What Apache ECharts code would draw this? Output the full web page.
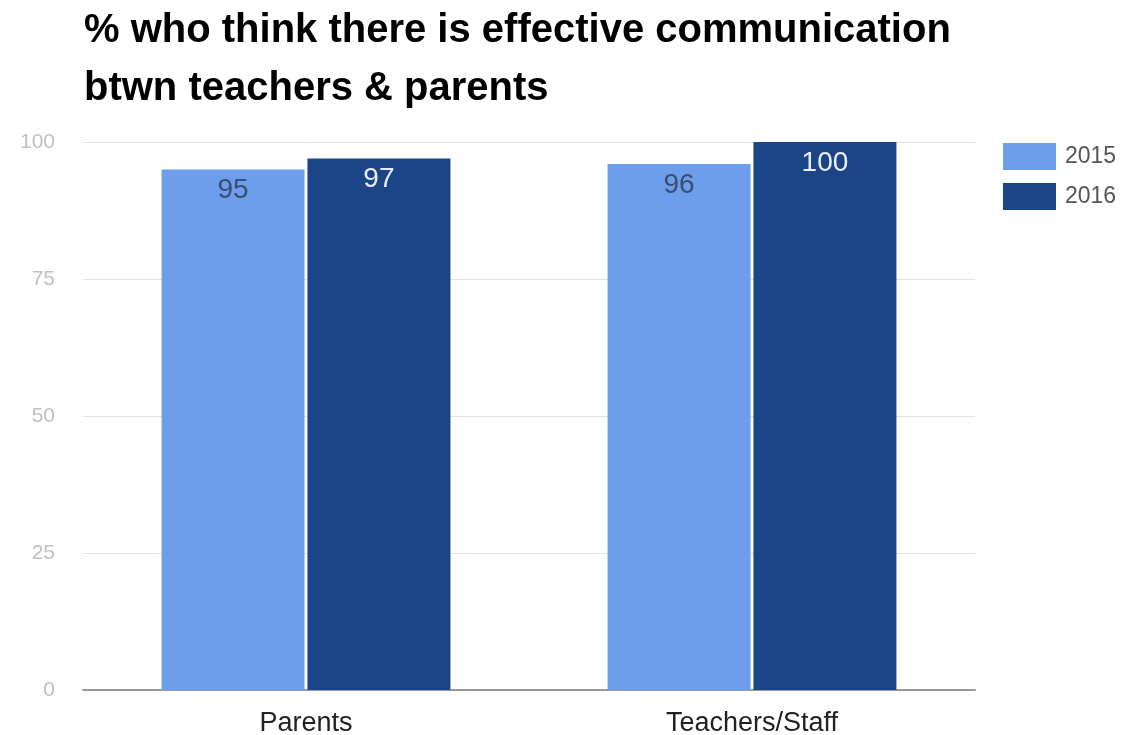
<!DOCTYPE html>
<html>
<head>
<meta charset="utf-8">
<script src="https://cdn.jsdelivr.net/npm/echarts@6/dist/echarts.min.js"></script>
<style>
  html, body { margin: 0; padding: 0; background: #fff; }
  #chart { width: 1127px; height: 735px; }
</style>
</head>
<body>
<div id="chart"></div>
<script>
const categories = ['Parents', 'Teachers/Staff']
const values2015 = [95, 96]
const values2016 = [97, 100]
const yTicks = [0, 25, 50, 75, 100]

const chart = echarts.init(document.getElementById('chart'))

const option = {
  backgroundColor: '#ffffff',
  animation: false,
  title: {
    text: '% who think there is effective communication\nbtwn teachers & parents',
    left: 79,
    top: -3,
    textStyle: {
      fontFamily: 'Liberation Sans',
      fontSize: 40,
      fontWeight: 'bold',
      color: '#000',
      lineHeight: 58
    }
  },
  legend: {
    orient: 'vertical',
    left: 998,
    top: 138,
    itemWidth: 53,
    itemHeight: 27,
    itemGap: 13,
    icon: 'rect',
    textStyle: {
      fontFamily: 'Liberation Sans',
      fontSize: 23,
      color: '#555',
      padding: [0, 0, 0, 4]
    },
    data: ['2015', '2016']
  },
  grid: {
    left: 83,
    right: 152,
    top: 142,
    bottom: 45,
    containLabel: false,
    outerBoundsMode: 'none'
  },
  xAxis: {
    type: 'category',
    data: categories,
    axisTick: { show: false },
    axisLine: { lineStyle: { color: '#999', width: 2 } },
    axisLabel: {
      fontFamily: 'Liberation Sans',
      fontSize: 27,
      color: '#222',
      margin: 20
    }
  },
  yAxis: {
    type: 'value',
    min: yTicks[0],
    max: yTicks[yTicks.length - 1],
    interval: 25,
    axisLine: { show: false },
    axisTick: { show: false },
    splitLine: { lineStyle: { color: '#e3e3e3', width: 1 } },
    axisLabel: {
      fontFamily: 'Liberation Sans',
      fontSize: 21,
      color: '#c0c0c0',
      margin: 28
    }
  },
  series: [
    {
      name: '2015',
      type: 'bar',
      data: values2015,
      barWidth: 143,
      barGap: '2%',
      itemStyle: { color: '#6d9eeb' },
      label: {
        show: true,
        position: 'insideTop',
        distance: 7,
        fontFamily: 'Liberation Sans',
        fontSize: 28,
        color: '#3b4d72'
      }
    },
    {
      name: '2016',
      type: 'bar',
      data: values2016,
      barWidth: 143,
      itemStyle: { color: '#1c4587' },
      label: {
        show: true,
        position: 'insideTop',
        distance: 7,
        fontFamily: 'Liberation Sans',
        fontSize: 28,
        color: '#e8eef8'
      }
    }
  ]
}

chart.setOption(option)
window.addEventListener('resize', function () {
  chart.resize()
})
</script>
</body>
</html>
